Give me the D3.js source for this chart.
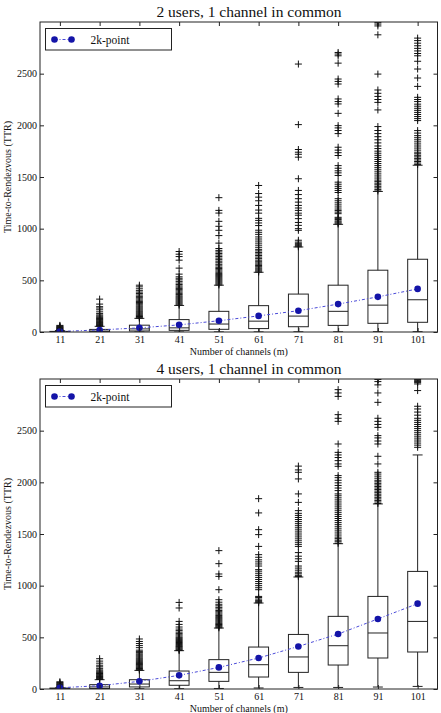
<!DOCTYPE html>
<html lang="en">
<head>
  <meta charset="UTF-8">
  <title>Time-to-Rendezvous box plots</title>
  <style>
    body { margin: 0; background: #fff; }
    svg text { font-family: "Liberation Serif", "Times New Roman", serif; }
  </style>
  <script src="https://d3js.org/d3.v7.min.js"></script>
</head>
<body>
  <div id="chart"></div>

  <script>
    // categories + ticks
    const channels = [11, 21, 31, 41, 51, 61, 71, 81, 91, 101];
    const yTicks = [0, 500, 1000, 1500, 2000, 2500];

    // ---- 2 users, 1 channel in common ----
    const u2Q1 = [0, 3, 10, 16, 26, 33, 51, 64, 84, 94];
    const u2Median = [2, 9, 30, 40, 77, 105, 154, 200, 260, 312];
    const u2Q3 = [6, 25, 66, 120, 200, 255, 367, 453, 598, 704];
    const u2WhiskerLow = [0, 0, 0, 0, 1, 1, 2, 2, 3, 3];
    const u2WhiskerHigh = [14, 55, 132, 257, 453, 578, 823, 1042, 1360, 1614];
    const u2Mean = [5, 20, 40, 69, 109, 156, 206, 270, 340, 417];
    const u2Fliers = [
      [16, 20, 24, 28, 33, 38, 42, 47, 52, 58, 64],
      [56, 62, 68, 74, 80, 86, 93, 100, 108, 115, 122, 130, 138, 146, 155, 165, 178, 195, 215, 232, 245, 270, 318],
      [134, 142, 150, 158, 166, 175, 184, 193, 202, 212, 222, 232, 242, 252, 263, 274, 285, 296, 308, 320, 332, 345, 358, 372, 386, 400, 418, 437, 453],
      [260, 270, 280, 290, 300, 310, 320, 330, 340, 350, 362, 374, 386, 398, 410, 422, 434, 446, 460, 474, 490, 505, 520, 534, 560, 618, 695, 730, 753, 779],
      [455, 465, 475, 485, 495, 505, 515, 525, 535, 545, 555, 565, 578, 590, 602, 614, 626, 640, 655, 670, 685, 700, 715, 730, 745, 760, 775, 790, 808, 860, 933, 984, 1023, 1071, 1151, 1177, 1300],
      [580, 590, 600, 610, 620, 632, 644, 656, 668, 680, 695, 710, 725, 740, 755, 770, 785, 800, 820, 840, 860, 880, 900, 920, 945, 965, 985, 1030, 1055, 1080, 1100, 1150, 1180, 1225, 1270, 1305, 1340, 1418],
      [825, 835, 845, 858, 870, 888, 984, 1000, 1032, 1060, 1097, 1130, 1150, 1177, 1200, 1225, 1257, 1290, 1330, 1370, 1483, 1692, 1720, 1740, 1766, 2007, 2593],
      [1045, 1055, 1065, 1075, 1088, 1100, 1110, 1145, 1160, 1175, 1190, 1210, 1230, 1250, 1270, 1290, 1350, 1370, 1390, 1410, 1430, 1450, 1515, 1540, 1560, 1585, 1610, 1708, 1735, 1760, 1788, 1920, 1950, 1975, 1997, 2116, 2207, 2230, 2255, 2400, 2425, 2448, 2602, 2673, 2690, 2705],
      [1365, 1380, 1395, 1410, 1425, 1440, 1455, 1470, 1490, 1510, 1530, 1550, 1570, 1590, 1610, 1630, 1650, 1670, 1690, 1710, 1730, 1750, 1775, 1800, 1830, 1860, 1890, 1920, 1950, 1988, 2149, 2222, 2250, 2280, 2310, 2342, 2496, 2876, 2962, 2980, 2994],
      [1620, 1635, 1650, 1665, 1680, 1695, 1710, 1725, 1740, 1760, 1780, 1800, 1820, 1840, 1860, 1880, 1900, 1925, 1949, 2046, 2065, 2085, 2105, 2125, 2145, 2165, 2185, 2205, 2230, 2250, 2271, 2377, 2458, 2545, 2620, 2673, 2695, 2720, 2745, 2770, 2795, 2820, 2844]
    ];

    // ---- 4 users, 1 channel in common ----
    const u4Q1 = [1, 5, 20, 36, 74, 116, 161, 232, 300, 358];
    const u4Median = [4, 20, 48, 80, 161, 235, 310, 419, 542, 654];
    const u4Q3 = [9, 42, 90, 174, 284, 406, 528, 703, 896, 1138];
    const u4WhiskerLow = [0, 1, 2, 3, 5, 10, 15, 15, 19, 25];
    const u4WhiskerHigh = [11, 90, 180, 371, 590, 832, 1084, 1406, 1791, 2265];
    const u4Mean = [12, 32, 74, 132, 209, 300, 412, 532, 678, 826];
    const u4Fliers = [
      [12, 18, 24, 30, 36, 42, 48, 55, 62, 70],
      [92, 98, 104, 110, 116, 122, 128, 135, 142, 150, 158, 166, 175, 185, 200, 215, 230, 250, 270, 293],
      [182, 190, 198, 206, 214, 222, 230, 238, 246, 255, 264, 273, 282, 291, 300, 310, 320, 330, 340, 352, 364, 376, 400, 420, 440, 460, 484],
      [372, 380, 388, 396, 404, 412, 420, 430, 440, 450, 460, 470, 480, 490, 500, 512, 524, 536, 550, 565, 580, 600, 625, 654, 784, 838],
      [592, 600, 608, 616, 624, 632, 640, 650, 660, 670, 680, 690, 700, 712, 724, 736, 748, 760, 775, 790, 805, 820, 840, 864, 961, 1090, 1113, 1213, 1339],
      [835, 845, 855, 870, 885, 896, 961, 980, 1000, 1020, 1040, 1060, 1080, 1100, 1120, 1140, 1155, 1190, 1210, 1230, 1250, 1275, 1300, 1380, 1494, 1542, 1704, 1842],
      [1088, 1100, 1115, 1130, 1150, 1170, 1190, 1235, 1260, 1285, 1320, 1380, 1400, 1420, 1440, 1460, 1480, 1500, 1520, 1540, 1560, 1580, 1600, 1620, 1640, 1660, 1680, 1700, 1726, 1806, 1888, 2033, 2097, 2120, 2157],
      [1410, 1425, 1440, 1455, 1470, 1490, 1510, 1530, 1550, 1570, 1590, 1610, 1630, 1650, 1670, 1690, 1710, 1730, 1750, 1770, 1790, 1810, 1830, 1850, 1870, 1888, 1920, 1945, 1970, 1995, 2020, 2045, 2065, 2155, 2178, 2210, 2240, 2265, 2290, 2371, 2590, 2620, 2655, 2832, 2865, 2897],
      [1795, 1810, 1825, 1840, 1855, 1870, 1885, 1900, 1915, 1930, 1945, 1960, 1975, 1990, 2005, 2020, 2040, 2060, 2080, 2097, 2178, 2252, 2371, 2400, 2430, 2452, 2532, 2560, 2590, 2620, 2774, 2865, 2943, 2975, 2995],
      [2339, 2360, 2380, 2400, 2420, 2440, 2460, 2480, 2500, 2520, 2540, 2560, 2580, 2600, 2620, 2650, 2680, 2710, 2736, 2888, 2952, 2965, 2975, 2984, 2995]
    ];

    const width = 441, height = 713;
    const left = 40, right = 437.5;
    const blue = "#1414a8";
    const ink = "#222";

    const svg = d3.create("svg")
        .attr("width", width)
        .attr("height", height)
        .attr("viewBox", [0, 0, width, height]);

    function buildRows(q1, med, q3, wlo, whi, mean, fliers) {
      return channels.map((c, i) => ({
        pos: i + 1, q1: q1[i], med: med[i], q3: q3[i],
        lo: wlo[i], hi: whi[i], mean: mean[i], fliers: fliers[i]
      }));
    }

    function panel(rows, title, top, bottom, id) {
      const x = d3.scaleLinear().domain([0.5, 10.5]).range([left, right]);
      const y = d3.scaleLinear().domain([0, 3000]).range([bottom, top]);
      const bw = x(1.25) - x(0.75);
      const g = svg.append("g");

      g.append("clipPath").attr("id", id)
        .append("rect")
          .attr("x", left).attr("y", top)
          .attr("width", right - left).attr("height", bottom - top);

      const plot = g.append("g").attr("clip-path", `url(#${id})`);

      const box = plot.append("g")
          .attr("stroke", ink)
          .attr("stroke-width", 1)
          .attr("fill", "none")
        .selectAll("g")
        .data(rows)
        .join("g");

      box.append("rect")
          .attr("x", d => x(d.pos) - bw / 2)
          .attr("y", d => y(d.q3))
          .attr("width", bw)
          .attr("height", d => y(d.q1) - y(d.q3));
      box.append("line")
          .attr("x1", d => x(d.pos) - bw / 2).attr("x2", d => x(d.pos) + bw / 2)
          .attr("y1", d => y(d.med)).attr("y2", d => y(d.med));
      // whiskers
      box.append("line")
          .attr("x1", d => x(d.pos)).attr("x2", d => x(d.pos))
          .attr("y1", d => y(d.q3)).attr("y2", d => y(d.hi));
      box.append("line")
          .attr("x1", d => x(d.pos)).attr("x2", d => x(d.pos))
          .attr("y1", d => y(d.q1)).attr("y2", d => y(d.lo));
      // caps
      box.append("line")
          .attr("x1", d => x(d.pos) - bw / 4).attr("x2", d => x(d.pos) + bw / 4)
          .attr("y1", d => y(d.hi)).attr("y2", d => y(d.hi));
      box.append("line")
          .attr("x1", d => x(d.pos) - bw / 4).attr("x2", d => x(d.pos) + bw / 4)
          .attr("y1", d => y(d.lo)).attr("y2", d => y(d.lo));

      // outliers as "+"
      const pts = rows.flatMap(d => d.fliers.map(v => ({ pos: d.pos, v })));
      plot.append("g")
          .attr("stroke", "#111")
          .attr("stroke-width", 1)
        .selectAll("path")
        .data(pts)
        .join("path")
          .attr("d", d => {
            const cx = x(d.pos), cy = y(d.v), s = 3.5;
            return `M${cx - s},${cy}H${cx + s}M${cx},${cy - s}V${cy + s}`;
          });

      // means
      const line = d3.line().x(d => x(d.pos)).y(d => y(d.mean));
      plot.append("path")
          .datum(rows)
          .attr("fill", "none")
          .attr("stroke", "#4a4ad8")
          .attr("stroke-width", 1)
          .attr("stroke-dasharray", "3,2,1,2")
          .attr("d", line);
      plot.append("g")
          .attr("fill", blue)
        .selectAll("circle")
        .data(rows)
        .join("circle")
          .attr("cx", d => x(d.pos))
          .attr("cy", d => y(d.mean))
          .attr("r", 3.3);

      // axes, ticks pointing inward
      const fmt = d3.format("d");
      const ax = g.append("g");
      ax.append("g")
          .attr("transform", `translate(${left},0)`)
          .call(d3.axisLeft(y).tickValues(yTicks).tickSize(-4).tickPadding(3).tickFormat(fmt));
      ax.append("g")
          .attr("transform", `translate(${right},0)`)
          .call(d3.axisRight(y).tickValues(yTicks).tickSize(-4).tickFormat(""));
      ax.append("g")
          .attr("transform", `translate(0,${bottom})`)
          .call(d3.axisBottom(x).tickValues(rows.map(d => d.pos)).tickSize(-4).tickPadding(3.5)
            .tickFormat((d, i) => channels[i]));
      ax.append("g")
          .attr("transform", `translate(0,${top})`)
          .call(d3.axisTop(x).tickValues(rows.map(d => d.pos)).tickSize(-4).tickFormat(""));
      ax.selectAll(".domain").remove();
      ax.selectAll(".tick line").attr("stroke", ink);
      ax.selectAll(".tick text")
          .attr("font-size", 10)
          .attr("fill", "#111");

      g.append("rect")
          .attr("x", left).attr("y", top)
          .attr("width", right - left).attr("height", bottom - top)
          .attr("fill", "none").attr("stroke", ink);

      g.append("text")
          .attr("x", 249)
          .attr("y", top - 5)
          .attr("text-anchor", "middle")
          .attr("font-size", 15.5)
          .attr("fill", "#111")
          .text(title);

      g.append("text")
          .attr("x", (left + right) / 2)
          .attr("y", bottom + 22.5)
          .attr("text-anchor", "middle")
          .attr("font-size", 10)
          .attr("fill", "#111")
          .text("Number of channels (m)");

      g.append("text")
          .attr("transform", `translate(10.5,${(top + bottom) / 2}) rotate(-90)`)
          .attr("text-anchor", "middle")
          .attr("font-size", 10)
          .attr("fill", "#111")
          .text("Time-to-Rendezvous (TTR)");

      // legend
      const lg = g.append("g").attr("transform", `translate(${left + 5.5},${top + 6.5})`);
      lg.append("rect")
          .attr("width", 126).attr("height", 21.5)
          .attr("fill", "#fff").attr("stroke", ink);
      lg.append("line")
          .attr("x1", 9).attr("x2", 26).attr("y1", 11).attr("y2", 11)
          .attr("stroke", "#4a4ad8").attr("stroke-dasharray", "3,2,1,2");
      lg.selectAll("circle").data([9, 26]).join("circle")
          .attr("cx", d => d).attr("cy", 11).attr("r", 3.3).attr("fill", blue);
      lg.append("text")
          .attr("x", 45).attr("y", 15)
          .attr("font-size", 11.5)
          .attr("fill", "#111")
          .text("2k-point");
    }

    panel(buildRows(u2Q1, u2Median, u2Q3, u2WhiskerLow, u2WhiskerHigh, u2Mean, u2Fliers),
      "2 users, 1 channel in common", 22, 332, "clipTop");
    panel(buildRows(u4Q1, u4Median, u4Q3, u4WhiskerLow, u4WhiskerHigh, u4Mean, u4Fliers),
      "4 users, 1 channel in common", 379, 689, "clipBottom");

    document.getElementById("chart").appendChild(svg.node());
  </script>
</body>
</html>
